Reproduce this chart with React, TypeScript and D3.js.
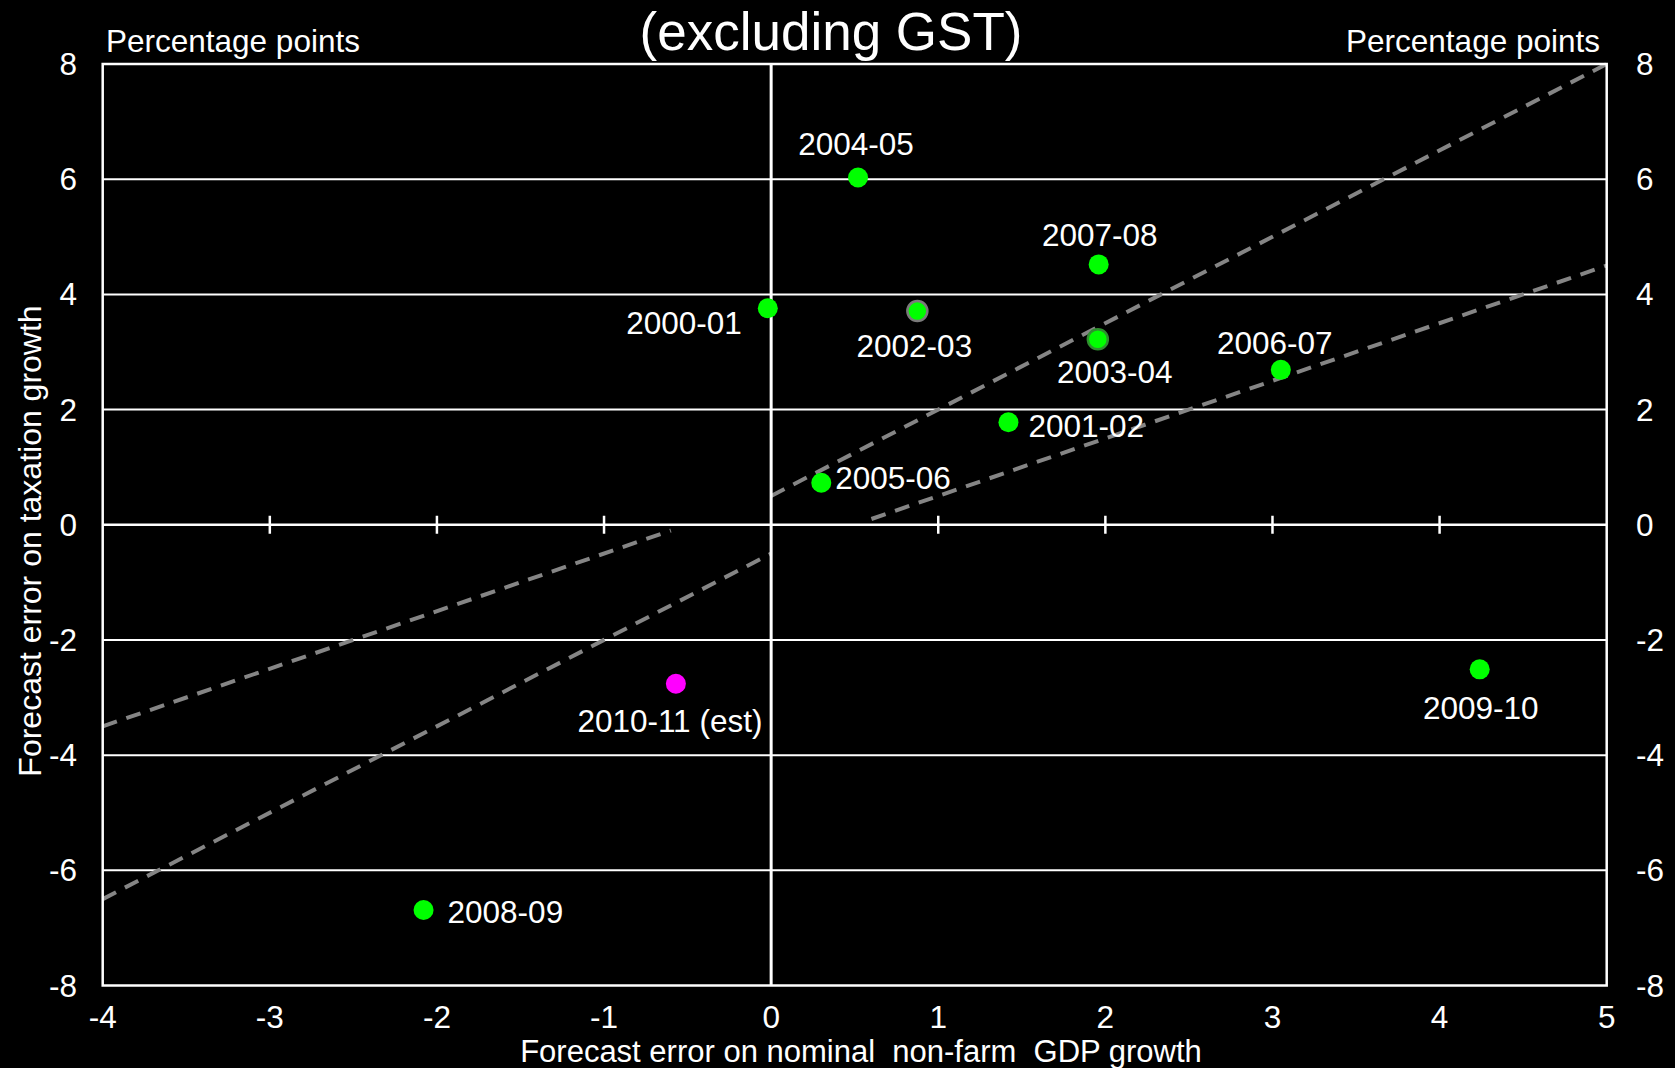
import React, { useEffect } from 'react';
import * as d3 from 'd3';

// ---- Data ----
const years = ['2000-01', '2001-02', '2002-03', '2003-04', '2004-05', '2005-06', '2006-07', '2007-08', '2008-09', '2009-10', '2010-11 (est)'];
const gdpError = [-0.02, 1.42, 0.875, 1.955, 0.52, 0.3, 3.05, 1.96, -2.08, 4.24, -0.57];
const taxError = [3.76, 1.78, 3.71, 3.22, 6.03, 0.73, 2.69, 4.52, -6.69, -2.51, -2.76];
const isEstimate = [false, false, false, false, false, false, false, false, false, false, true];

// dashed guide lines: [x1, y1, x2, y2]
const guideLines: [number, number, number, number][] = [
  [0, 0.5, 5, 8],
  [-4, -6.5, 0, -0.5],
  [0.6, 0.1, 5, 4.5],
  [-4, -3.5, -0.6, -0.1],
];

const xTicks = [-4, -3, -2, -1, 0, 1, 2, 3, 4, 5];
const yTicks = [-8, -6, -4, -2, 0, 2, 4, 6, 8];

const titleText = '(excluding GST)';
const unitText = 'Percentage points';
const xTitle = 'Forecast error on nominal\u00a0 non-farm\u00a0 GDP growth';
const yTitle = 'Forecast error on taxation growth';

// ---- Layout (label offsets relative to each point) ----
const labelLayout: Record<string, { anchor: string; dx: number; dy: number }> = {
  '2000-01': { anchor: 'end', dx: -26, dy: 26 },
  '2001-02': { anchor: 'start', dx: 20, dy: 15 },
  '2002-03': { anchor: 'middle', dx: -3, dy: 46 },
  '2003-04': { anchor: 'middle', dx: 17, dy: 44 },
  '2004-05': { anchor: 'middle', dx: -2, dy: -22 },
  '2005-06': { anchor: 'start', dx: 14, dy: 6 },
  '2006-07': { anchor: 'middle', dx: -6, dy: -16 },
  '2007-08': { anchor: 'middle', dx: 1, dy: -18 },
  '2008-09': { anchor: 'start', dx: 24, dy: 13 },
  '2009-10': { anchor: 'middle', dx: 1, dy: 50 },
  '2010-11 (est)': { anchor: 'middle', dx: -6, dy: 48 },
};

const W = 1675;
const H = 1068;
const M = { left: 102.7, right: 68.3, top: 64, bottom: 82.5 };
const FONT = '"Liberation Sans", Arial, Helvetica, sans-serif';
const FS = 31.5;

export default function App() {
  useEffect(() => {
    document.body.style.margin = '0';
    document.body.style.background = '#000';
  }, []);

  const x = d3.scaleLinear().domain([-4, 5]).range([M.left, W - M.right]);
  const y = d3.scaleLinear().domain([-8, 8]).range([H - M.bottom, M.top]);
  const line = d3.line<[number, number]>().x((d) => x(d[0])).y((d) => y(d[1]));

  const x0 = x(-4), x1 = x(5), yTop = y(8), yBot = y(-8);

  return (
    <svg width={W} height={H} style={{ display: 'block', background: '#000' }} fontFamily={FONT}>
      <rect x={0} y={0} width={W} height={H} fill="#000" />

      {/* horizontal gridlines */}
      {yTicks.filter((t) => t !== 8 && t !== -8 && t !== 0).map((t) => (
        <line key={'g' + t} x1={x0} x2={x1} y1={y(t)} y2={y(t)} stroke="#fff" strokeWidth={2} />
      ))}

      {/* dashed guides */}
      {guideLines.map((g, i) => (
        <path key={'d' + i} d={line([[g[0], g[1]], [g[2], g[3]]]) || ''} stroke="#858585" strokeWidth={4} strokeDasharray="15 10" fill="none" />
      ))}

      {/* zero lines */}
      <line x1={x0} x2={x1} y1={y(0)} y2={y(0)} stroke="#fff" strokeWidth={2.5} />
      {xTicks.filter((t) => t !== -4 && t !== 5 && t !== 0).map((t) => (
        <line key={'t' + t} x1={x(t)} x2={x(t)} y1={y(0) - 9} y2={y(0) + 9} stroke="#fff" strokeWidth={2.5} />
      ))}
      <line x1={x(0)} x2={x(0)} y1={yTop} y2={yBot} stroke="#fff" strokeWidth={3} />

      {/* frame */}
      <rect x={x0} y={yTop} width={x1 - x0} height={yBot - yTop} fill="none" stroke="#fff" strokeWidth={2.5} />

      {/* points */}
      {years.map((yr, i) => {
        const stroke = yr === '2002-03' ? '#7a7a7a' : yr === '2003-04' ? '#2f8f2f' : 'none';
        return (
          <circle key={'p' + yr} cx={x(gdpError[i])} cy={y(taxError[i])} r={10}
            fill={isEstimate[i] ? '#ff00ff' : '#00ff00'} stroke={stroke} strokeWidth={2.5} />
        );
      })}

      {/* point labels */}
      {years.map((yr, i) => {
        const l = labelLayout[yr];
        return (
          <text key={'l' + yr} x={x(gdpError[i]) + l.dx} y={y(taxError[i]) + l.dy} textAnchor={l.anchor as any}
            fill="#fff" fontSize={FS}>{yr}</text>
        );
      })}

      {/* y tick labels left and right */}
      {yTicks.map((t) => (
        <g key={'yl' + t}>
          <text x={77} y={y(t) + 11} textAnchor="end" fill="#fff" fontSize={FS}>{t}</text>
          <text x={1636} y={y(t) + 11} textAnchor="start" fill="#fff" fontSize={FS}>{t}</text>
        </g>
      ))}

      {/* x tick labels */}
      {xTicks.map((t) => (
        <text key={'xl' + t} x={x(t)} y={1028} textAnchor="middle" fill="#fff" fontSize={FS}>{t}</text>
      ))}

      {/* titles */}
      <text x={831} y={50} textAnchor="middle" fill="#fff" fontSize={53}>{titleText}</text>
      <text x={106} y={52} textAnchor="start" fill="#fff" fontSize={FS}>{unitText}</text>
      <text x={1600} y={52} textAnchor="end" fill="#fff" fontSize={FS}>{unitText}</text>
      <text x={861} y={1062} textAnchor="middle" fill="#fff" fontSize={31}>{xTitle}</text>
      <text transform={`translate(41, 541) rotate(-90)`} textAnchor="middle" fill="#fff" fontSize={32}>{yTitle}</text>
    </svg>
  );
}
